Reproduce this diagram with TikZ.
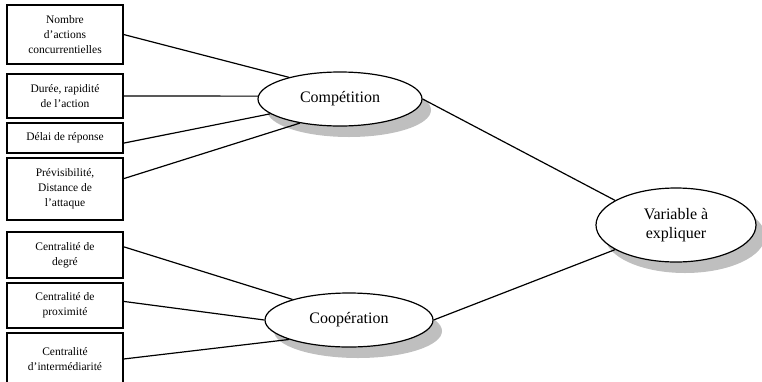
\documentclass[tikz,border=0pt]{standalone}
\usepackage{fontspec}
\setmainfont{Liberation Serif}
\usetikzlibrary{shapes.geometric, shadows}

\begin{document}
\begin{tikzpicture}[x=1pt, y=-1pt,
    facteur/.style={draw, line width=1.2pt, minimum width=116pt, inner sep=0pt,
                    align=center, font=\fontsize{11.5}{15}\selectfont},
    concept/.style={ellipse, draw, line width=1.2pt, fill=white, inner sep=0pt,
                    align=center, font=\fontsize{16}{19}\selectfont,
                    drop shadow={shadow xshift=9pt, shadow yshift=-11pt,
                                 fill=black!25, opacity=1}},
    lien/.style={line width=1.2pt}]

  % --- Cadre ---
  \useasboundingbox (0,0) rectangle (762,381);
  \clip (0,0) rectangle (762,381);

  % --- Facteurs de la compétition ---
  \node[facteur, minimum height=59pt] (nombre)  at (65,34.5) {Nombre\\d'actions\\concurrentielles};
  \node[facteur, minimum height=44pt] (duree)   at (65,96)   {Durée, rapidité\\de l'action};
  \node[facteur, minimum height=30pt] (delai)   at (65,138)  {Délai de réponse};
  \node[facteur, minimum height=62pt] (previs)  at (65,189)  {Prévisibilité,\\Distance de\\l'attaque};

  % --- Facteurs de la coopération ---
  \node[facteur, minimum height=46pt] (degre)   at (65,255)   {Centralité de\\degré};
  \node[facteur, minimum height=45pt] (proxi)   at (65,305.5) {Centralité de\\proximité};
  \node[facteur, minimum height=52pt] (interm)  at (65,359)   {Centralité\\d'intermédiarité};

  % --- Variables latentes ---
  \node[concept, minimum width=164pt, minimum height=54pt] (compet) at (340,99)  {Compétition};
  \node[concept, minimum width=168pt, minimum height=54pt] (coop)   at (349,320) {Coopération};
  \node[concept, minimum width=160pt, minimum height=74pt] (var)    at (676,225) {Variable à\\expliquer};

  % --- Liens vers Compétition ---
  \draw[lien] (nombre.east) -- (compet.157);
  \draw[lien] (duree.east)  -- (compet.178);
  \draw[lien] (delai.355)   -- (compet.192);
  \draw[lien] (previs.10)   -- (compet.211);

  % --- Liens vers Coopération ---
  \draw[lien] (degre.8)     -- (coop.160);
  \draw[lien] (proxi.4)     -- (coop.180);
  \draw[lien] (interm.east) -- (coop.198);

  % --- Liens vers la variable à expliquer ---
  \draw[lien] (compet.0) -- (var.158);
  \draw[lien] (coop.0)   -- (var.202);

\end{tikzpicture}
\end{document}
